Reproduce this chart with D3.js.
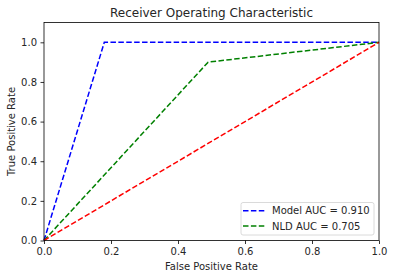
<!DOCTYPE html>
<html><head><meta charset="utf-8">
<script src="https://cdn.jsdelivr.net/npm/d3@7"></script>
<style>body{margin:0;background:#fff}svg{display:block}text{font-family:"DejaVu Sans",sans-serif;fill:#262626}</style>
</head><body>
<svg id="c" width="394" height="278"></svg>
<script>
const modelFPR = [0, 0.18, 1];
const modelTPR = [0, 1, 1];
const nldFPR = [0, 0.49, 1];
const nldTPR = [0, 0.9, 1];
const diagFPR = [0, 1];
const diagTPR = [0, 1];
const xTicks = [0, 0.2, 0.4, 0.6, 0.8, 1.0];
const yTicks = [0, 0.2, 0.4, 0.6, 0.8, 1.0];
const legendLabels = ["Model AUC = 0.910", "NLD AUC = 0.705"];

const svg = d3.select("#c");
const L = 44, R = 379, T = 22.5, B = 240.5;
const x = d3.scaleLinear().domain([0, 1]).range([L, R]);
const y = d3.scaleLinear().domain([0, 1.1]).range([B, T]);

const line = d3.line().x(d => x(d[0])).y(d => y(d[1]));
function draw(xs, ys, color) {
  svg.append("path").datum(xs.map((v, i) => [v, ys[i]]))
    .attr("d", line).attr("fill", "none").attr("stroke", color)
    .attr("stroke-width", 1.5).attr("stroke-dasharray", "5.5,2.4");
}
draw(modelFPR, modelTPR, "#0000ff");
draw(nldFPR, nldTPR, "#008000");
draw(diagFPR, diagTPR, "#ff0000");

const xa = svg.append("g").attr("transform", `translate(0,${B})`)
  .call(d3.axisBottom(x).tickValues(xTicks).tickFormat(d3.format(".1f")).tickSize(3.5).tickPadding(3.5));
const ya = svg.append("g").attr("transform", `translate(${L},0)`)
  .call(d3.axisLeft(y).tickValues(yTicks).tickFormat(d3.format(".1f")).tickSize(3.5).tickPadding(3.5));
[xa, ya].forEach(g => {
  g.select(".domain").remove();
  g.selectAll("line").attr("stroke", "#000").attr("stroke-width", 0.8);
  g.selectAll("text").attr("font-size", 10).attr("fill", "#262626").style("font-family", "DejaVu Sans");
});
svg.append("rect").attr("x", L).attr("y", T).attr("width", R - L).attr("height", B - T)
  .attr("fill", "none").attr("stroke", "#000").attr("stroke-width", 0.8);

svg.append("text").attr("x", (L + R) / 2).attr("y", 17).attr("text-anchor", "middle")
  .attr("font-size", 12).text("Receiver Operating Characteristic");
svg.append("text").attr("x", (L + R) / 2).attr("y", 270).attr("text-anchor", "middle")
  .attr("font-size", 10).text("False Positive Rate");
svg.append("text").attr("transform", `translate(15,${(T + B) / 2}) rotate(-90)`).attr("text-anchor", "middle")
  .attr("font-size", 10).text("True Positive Rate");

const lg = svg.append("g");
lg.append("rect").attr("x", 241).attr("y", 202.5).attr("width", 133).attr("height", 32.5).attr("rx", 2)
  .attr("fill", "#fff").attr("fill-opacity", 0.8).attr("stroke", "#d0d0d0").attr("stroke-width", 0.8);
const colors = ["#0000ff", "#008000"];
legendLabels.forEach((t, i) => {
  const cy = 210.7 + i * 15.3;
  lg.append("line").attr("x1", 243).attr("x2", 265).attr("y1", cy).attr("y2", cy)
    .attr("stroke", colors[i]).attr("stroke-width", 1.5).attr("stroke-dasharray", "5.5,2.4");
  lg.append("text").attr("x", 272).attr("y", cy + 3.6).attr("font-size", 10).text(t);
});
</script>
</body></html>
